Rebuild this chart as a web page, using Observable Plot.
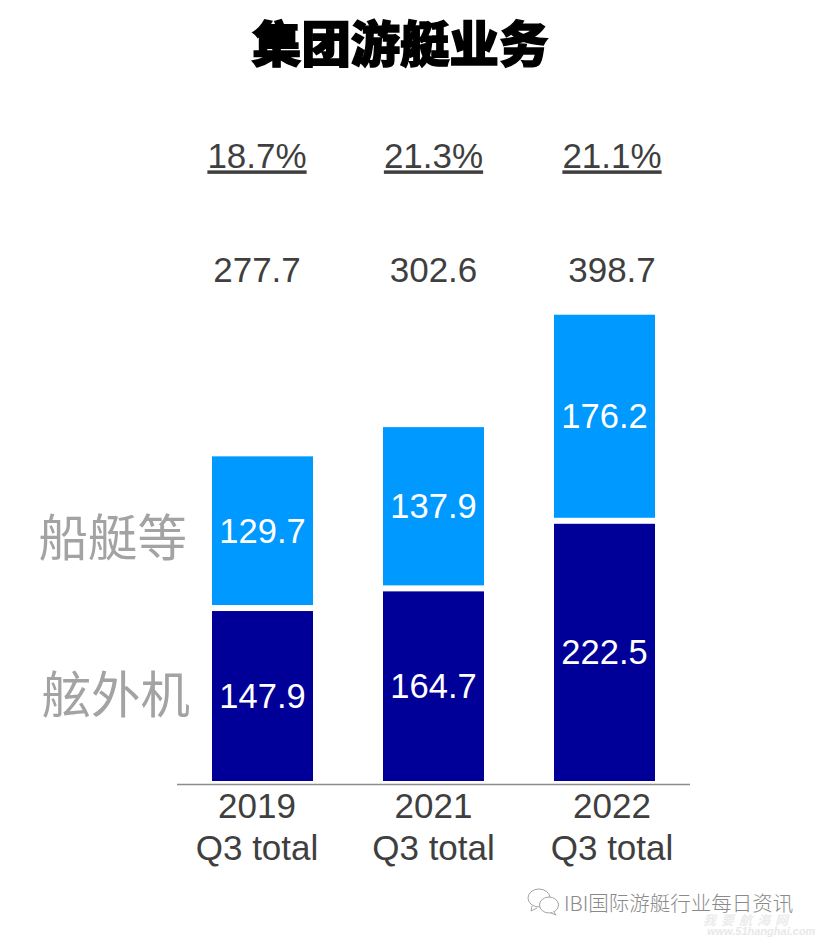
<!DOCTYPE html>
<html lang="zh">
<head>
<meta charset="utf-8">
<script src="https://cdn.jsdelivr.net/npm/d3@7"></script>
<script src="https://cdn.jsdelivr.net/npm/@observablehq/plot@0.6"></script>
<style>
  html, body { margin: 0; padding: 0; background: #fff; }
  #page { position: relative; width: 816px; height: 937px; overflow: hidden; }
  #title { height: 90px; box-sizing: border-box; padding: 13px 0 0 252px; font: 900 49.4px/1.15 "Noto Sans CJK SC", sans-serif; color: #000; -webkit-text-stroke: 1.4px #000; white-space: nowrap; }
  #chart svg { display: block; }
  .under { text-decoration: underline; text-decoration-thickness: 2px; }
  #source { position: absolute; left: 564px; top: 892px; font: 20.5px/1 "Noto Sans CJK SC", sans-serif; font-weight: 300; color: #8a8a8a; white-space: nowrap; }
  #icon { position: absolute; left: 526px; top: 887px; }
  #mark1 { position: absolute; left: 703px; top: 912.5px; font: italic 700 13px/1 "Noto Sans CJK SC", sans-serif; letter-spacing: 5px; color: #ececec; white-space: nowrap; }
  #mark2 { position: absolute; left: 707px; top: 925.5px; font: italic 700 11px/1 "Liberation Sans", sans-serif; color: #e8e8e8; white-space: nowrap; }
</style>
</head>
<body>
<div id="page">
  <div id="title">集团游艇业务</div>
  <div id="chart"></div>
  <svg id="icon" width="36" height="30" viewBox="0 0 36 30" fill="#fff" stroke="#9a9a9a" stroke-width="0.9">
    <ellipse cx="13" cy="11" rx="11" ry="9"/><path d="M6 19l-1 5 6-3"/>
    <ellipse cx="23" cy="18" rx="9.5" ry="8"/><path d="M28 25l2 3-5-2"/>
  </svg>
  <div id="source">IBI国际游艇行业每日资讯</div>
  <div id="mark1">我要航海网</div>
  <div id="mark2">www.51hanghai.com</div>
</div>
<script>
const years = ["2019", "2021", "2022"];
const periods = ["Q3 total", "Q3 total", "Q3 total"];
const seriesNames = ["舷外机", "船艇等"];
const outboard = [147.9, 164.7, 222.5];
const boats = [129.7, 137.9, 176.2];
const totals = [277.7, 302.6, 398.7];
const shares = ["18.7%", "21.3%", "21.1%"];
const seriesColors = ["#000099", "#0099ff"];
const labelShift = [-6, -0.5, 7];

const lower = years.map((year, i) => ({year, series: seriesNames[0], value: outboard[i], base: 0, top: outboard[i]}));
const upper = years.map((year, i) => ({year, series: seriesNames[1], value: boats[i], base: outboard[i], top: outboard[i] + boats[i]}));
const mid = d => (d.base + d.top) / 2;
const ink = "#3f3f3f";
const gray = "#a3a3a3";
const cjk = "'Noto Sans CJK SC', sans-serif";

const perYear = years.flatMap((year, i) => [
  Plot.text([shares[i]], {
    x: () => year, text: d => d, frameAnchor: "top", dy: 52, dx: labelShift[i],
    fontSize: 35, fill: ink, className: "under"
  }),
  Plot.text([totals[i]], {
    x: () => year, text: d => d.toFixed(1), frameAnchor: "top", dy: 166, dx: labelShift[i],
    fontSize: 35, fill: ink
  }),
  Plot.axisX([year], {
    anchor: "bottom", tickSize: 0, tickPadding: 7, dx: labelShift[i], lineHeight: 1.2,
    label: null, fontSize: 35, fill: ink,
    tickFormat: () => `${year}\n${periods[i]}`
  })
]);

const chart = Plot.plot({
  width: 816,
  height: 847,
  marginTop: 1,
  marginLeft: 177,
  marginRight: 126,
  marginBottom: 156,
  style: {fontFamily: "'Liberation Sans', Arial, sans-serif", background: "#fff", overflow: "visible"},
  x: {domain: years, paddingInner: 0.41, paddingOuter: 0.205, label: null, axis: null},
  y: {domain: [0, 590], axis: null},
  color: {domain: seriesNames, range: seriesColors},
  marks: [
    Plot.barY(lower, {x: "year", y1: "base", y2: "top", fill: "series", insetTop: 3}),
    Plot.barY(upper, {x: "year", y1: "base", y2: "top", fill: "series", insetBottom: 3}),
    Plot.ruleY([0], {dy: 3, stroke: "#8c8c8c", strokeWidth: 1.5}),
    Plot.text(lower, {x: "year", y: mid, text: d => d.value.toFixed(1), fill: "#fff", fontSize: 34.5, dx: -0.5, dy: 2}),
    Plot.text(upper, {x: "year", y: mid, text: d => d.value.toFixed(1), fill: "#fff", fontSize: 34.5, dx: -0.5, dy: -1}),
    Plot.text([upper[0]], {
      y: mid, text: "series", frameAnchor: "left", textAnchor: "start",
      dx: -139, dy: 7, fontSize: 49.5, fill: gray, fontFamily: cjk
    }),
    Plot.text([lower[0]], {
      y: mid, text: "series", frameAnchor: "left", textAnchor: "start",
      dx: -136, dy: 2, fontSize: 49.5, fill: gray, fontFamily: cjk
    }),
    ...perYear
  ]
});
document.getElementById("chart").append(chart);
</script>
</body>
</html>
